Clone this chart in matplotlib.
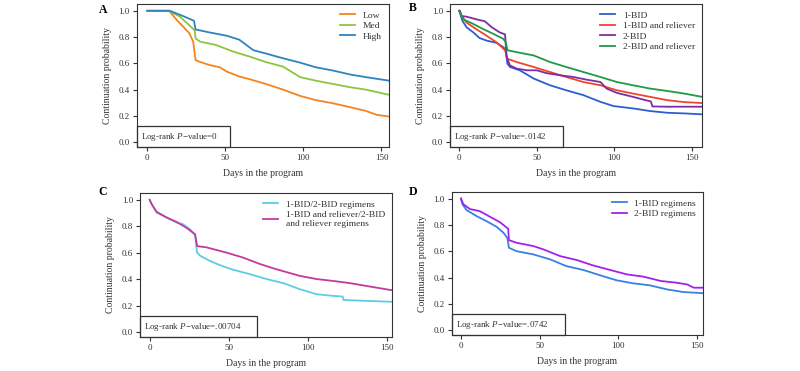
import matplotlib
matplotlib.use("Agg")
import matplotlib.pyplot as plt
from matplotlib.patches import Rectangle

plt.rcParams['font.family'] = ['Liberation Serif', 'DejaVu Serif']
plt.rcParams['mathtext.fontset'] = 'custom'
plt.rcParams['mathtext.rm'] = 'Liberation Serif'
plt.rcParams['mathtext.it'] = 'Liberation Serif:italic'

# ---------------- Panel A ----------------
a_high_t = [0, 14.5, 23, 30, 31, 40, 51, 59, 68, 76, 85, 98, 108, 119, 130, 140, 155]
a_high_s = [1.0, 1.0, 0.96, 0.924, 0.858, 0.835, 0.81, 0.78, 0.70, 0.675, 0.645, 0.605, 0.57, 0.545, 0.515, 0.495, 0.468]
a_med_t = [0, 14, 21, 27, 30.5, 31, 34, 44, 55, 66, 76, 87, 98, 108, 119, 130, 140, 155]
a_med_s = [1.0, 1.0, 0.955, 0.89, 0.85, 0.79, 0.765, 0.74, 0.69, 0.65, 0.61, 0.575, 0.495, 0.468, 0.443, 0.418, 0.40, 0.36]
a_low_t = [0, 14, 19, 23, 27, 29.5, 31, 34, 40, 46.5, 51, 59, 66, 76, 87, 98, 108, 119, 130, 140, 147, 155]
a_low_s = [1.0, 1.0, 0.93, 0.88, 0.83, 0.765, 0.625, 0.61, 0.587, 0.57, 0.537, 0.50, 0.478, 0.443, 0.40, 0.352, 0.32, 0.296, 0.266, 0.238, 0.208, 0.195]

# ---------------- Panel B ----------------
b_1bid_t = [0, 2, 4.7, 9, 13, 17.6, 24, 28.4, 30, 31, 32.7, 39, 48, 58.5, 69, 80, 91, 99.4, 112, 123, 134, 145, 156.5]
b_1bid_s = [1.0, 0.924, 0.874, 0.836, 0.793, 0.773, 0.756, 0.723, 0.70, 0.597, 0.572, 0.547, 0.484, 0.433, 0.395, 0.358, 0.307, 0.275, 0.257, 0.237, 0.224, 0.219, 0.212]
b_1bidr_t = [0, 1.5, 4.7, 11, 17.6, 24, 29.5, 31, 37, 48, 58.5, 69, 80, 91, 101.6, 112, 123, 134, 145, 156.5]
b_1bidr_s = [1.0, 0.96, 0.91, 0.86, 0.81, 0.76, 0.70, 0.635, 0.61, 0.572, 0.534, 0.496, 0.458, 0.433, 0.395, 0.37, 0.345, 0.32, 0.305, 0.298]
b_2bid_t = [0, 0.4, 1.5, 4.7, 11, 16.5, 21, 26, 29.5, 30.5, 32.7, 37, 43.5, 50, 56, 65, 73.6, 82, 91, 95, 101.6, 112, 120, 123.5, 124.5, 134, 156.5]
b_2bid_s = [1.0, 1.0, 0.96, 0.955, 0.935, 0.92, 0.874, 0.836, 0.82, 0.647, 0.584, 0.56, 0.547, 0.547, 0.526, 0.509, 0.496, 0.476, 0.458, 0.408, 0.375, 0.345, 0.32, 0.31, 0.272, 0.27, 0.27]
b_2bidr_t = [0, 2.6, 9, 15.5, 22, 28.4, 30, 31, 37, 48, 58.5, 69, 80, 91, 101.6, 112, 123, 134, 145, 156.5]
b_2bidr_s = [1.0, 0.935, 0.90, 0.86, 0.824, 0.786, 0.76, 0.70, 0.685, 0.66, 0.61, 0.572, 0.534, 0.496, 0.458, 0.433, 0.408, 0.39, 0.37, 0.345]

# ---------------- Panel C ----------------
c_noreliever_t = [0, 1.3, 4.4, 10.8, 17, 21, 25.5, 28.7, 30, 32, 38, 44.5, 53, 63.5, 74, 84.6, 95, 105.7, 116, 122, 122.6, 137, 156]
c_noreliever_s = [1.0, 0.967, 0.904, 0.866, 0.828, 0.816, 0.778, 0.732, 0.60, 0.576, 0.538, 0.505, 0.47, 0.437, 0.40, 0.369, 0.323, 0.285, 0.273, 0.268, 0.242, 0.235, 0.227]
c_reliever_t = [0, 1.3, 4.4, 10.8, 17, 23, 28.7, 30, 36, 48.7, 59, 70, 80, 95, 105.7, 116, 126.8, 137, 156]
c_reliever_s = [1.0, 0.967, 0.909, 0.866, 0.833, 0.79, 0.74, 0.65, 0.64, 0.60, 0.563, 0.513, 0.475, 0.424, 0.40, 0.386, 0.369, 0.348, 0.31]

# ---------------- Panel D ----------------
d_1bid_t = [0, 1, 3.6, 10, 16.3, 22.7, 27, 29.5, 30.5, 35.4, 46, 56.7, 67, 78, 88.5, 99, 109.7, 120, 131, 141.5, 156]
d_1bid_s = [1.0, 0.955, 0.912, 0.866, 0.828, 0.785, 0.74, 0.70, 0.626, 0.60, 0.576, 0.538, 0.487, 0.457, 0.417, 0.379, 0.356, 0.341, 0.31, 0.29, 0.28]
d_2bid_t = [0, 1.5, 5.7, 12, 18.5, 24.8, 28, 30, 30.5, 35.4, 46, 52.4, 63, 73.6, 84, 95, 105.5, 116, 127, 137, 143.7, 148, 156]
d_2bid_s = [1.0, 0.957, 0.92, 0.904, 0.861, 0.82, 0.79, 0.77, 0.684, 0.664, 0.639, 0.614, 0.563, 0.533, 0.492, 0.457, 0.424, 0.407, 0.374, 0.361, 0.348, 0.323, 0.323]

x_ticks = [0, 50, 100, 150]
y_ticks = [0.0, 0.2, 0.4, 0.6, 0.8, 1.0]
y_ticklabels = ["0.0", "0.2", "0.4", "0.6", "0.8", "1.0"]

W, H = 800, 371
panels = [
    dict(label="A", lab_px=(103, 10), pos=[0.171, 0.604, 0.315, 0.385], xlim=(-6.6, 154.7),
         series=[(a_low_t, a_low_s, "Low", "#f5841f"),
                 (a_med_t, a_med_s, "Med", "#8cc63f"),
                 (a_high_t, a_high_s, "High", "#2f84bd")],
         pval="0", box_right=53),
    dict(label="B", lab_px=(413, 8), pos=[0.5625, 0.604, 0.315, 0.385], xlim=(-6.0, 156.5),
         series=[(b_1bid_t, b_1bid_s, "1-BID", "#2b5fd0"),
                 (b_1bidr_t, b_1bidr_s, "1-BID and reliever", "#f0452b"),
                 (b_2bid_t, b_2bid_s, "2-BID", "#7b2ea3"),
                 (b_2bidr_t, b_2bidr_s, "2-BID and reliever", "#1f9a48")],
         pval=".0142", box_right=67),
    dict(label="C", lab_px=(103, 192), pos=[0.175, 0.0925, 0.315, 0.387], xlim=(-6.1, 153.2),
         series=[(c_noreliever_t, c_noreliever_s, "1-BID/2-BID regimens", "#5dcde3"),
                 (c_reliever_t, c_reliever_s, "1-BID and reliever/2-BID\nand reliever regimens", "#c23a9e")],
         pval=".00704", box_right=68),
    dict(label="D", lab_px=(413, 192), pos=[0.5646, 0.097, 0.3145, 0.386], xlim=(-5.9, 154.0),
         series=[(d_1bid_t, d_1bid_s, "1-BID regimens", "#3a80e2"),
                 (d_2bid_t, d_2bid_s, "2-BID regimens", "#a321ee")],
         pval=".0742", box_right=66),
]

fig = plt.figure(figsize=(8, 3.71), dpi=100)
ylim = (-0.036, 1.051)
for p in panels:
    ax = fig.add_axes(p["pos"])
    for t, s, name, col in p["series"]:
        ax.plot(t, s, color=col, lw=1.3, label=name)
    ax.set_xlim(*p["xlim"])
    ax.set_ylim(*ylim)
    ax.set_xticks(x_ticks)
    ax.set_yticks(y_ticks)
    ax.set_yticklabels(y_ticklabels)
    ax.tick_params(direction="out", length=3, width=0.8, labelsize=6.5, pad=2, colors="#333333")
    for sp in ax.spines.values():
        sp.set_linewidth(0.8)
        sp.set_color("#333333")
    ax.set_xlabel("Days in the program", fontsize=7, labelpad=5, color="#333333")
    ax.set_ylabel("Continuation probability", fontsize=7, labelpad=5, color="#333333")
    leg = ax.legend(loc="upper right", frameon=False,
                    fontsize=6.8, handlelength=1.6, handletextpad=0.8, labelspacing=0.2,
                    borderaxespad=0.35)
    for txt in leg.get_texts():
        txt.set_color("#333333")
    x0 = p["xlim"][0]
    rect = Rectangle((x0, ylim[0]), p["box_right"] - x0, 0.124 - ylim[0], fill=False,
                     ec="#333333", lw=0.9, clip_on=False)
    ax.add_patch(rect)
    ax.text(x0 + 2.5, 0.04, "Log-rank $P$\u2212value=" + p["pval"], fontsize=6.5,
            va="center", ha="left", color="#333333")
    lx, ly = p["lab_px"]
    fig.text(lx / W, 1 - ly / H, p["label"],
             fontsize=8.5, fontweight="bold", va="center", ha="center")

fig.savefig("out.png", dpi=100)
